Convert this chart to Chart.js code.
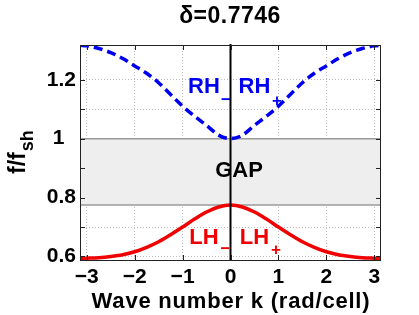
<!DOCTYPE html>
<html><head><meta charset="utf-8">
<script src="https://cdn.jsdelivr.net/npm/chart.js@4/dist/chart.umd.min.js"></script>
<style>html,body{margin:0;padding:0;background:#fff;overflow:hidden}#wrap{width:419px;height:315px}</style>
</head><body><div id="wrap"><canvas id="c" width="419" height="315"></canvas></div>
<script>
const titleText = 'δ=0.7746';
const xAxisTitle = 'Wave number k (rad/cell)';
const yAxisMain = 'f/f';
const yAxisSub = 'sh';
const kMin = -3.1416, kMax = 3.1416;
const yMin = 0.588, yMax = 1.318;
const waveNumber = [-3.1416,-3,-2.75,-2.5,-2.25,-2,-1.75,-1.5,-1.25,-1,-0.75,-0.5,-0.25,0,0.25,0.5,0.75,1,1.25,1.5,1.75,2,2.25,2.5,2.75,3,3.1416];
const rhFreq = [1.317,1.315,1.306,1.292,1.272,1.247,1.222,1.190,1.150,1.110,1.076,1.045,1.012,1.000,1.012,1.045,1.076,1.110,1.150,1.190,1.222,1.247,1.272,1.292,1.306,1.315,1.317];
const lhFreq = [0.593,0.594,0.596,0.600,0.606,0.616,0.631,0.650,0.674,0.700,0.727,0.751,0.768,0.7746,0.768,0.751,0.727,0.700,0.674,0.650,0.631,0.616,0.606,0.600,0.596,0.594,0.593];
const gapLow = 0.7746, gapHigh = 1.0;
const xTicks = [-3,-2,-1,0,1,2,3];
const xTickLabels = ['\u22123','\u22122','\u22121','0','1','2','3'];
const yTicks = [0.6,0.7,0.8,0.9,1.0,1.1,1.2];
const yTickLabels = ['0.6','','0.8','','1  ','','1.2'];

const BLUE = '#0000f0', RED = '#f00000';
const FONT = '"Liberation Sans", Arial, Helvetica, sans-serif';

const decor = {
  id: 'decor',
  beforeDatasetsDraw(chart) {
    const {ctx, chartArea: a, scales: {y}} = chart;
    const yt = y.getPixelForValue(gapHigh), yb = y.getPixelForValue(gapLow);
    ctx.save();
    ctx.fillStyle = '#eeeeee';
    ctx.fillRect(a.left, yt, a.right - a.left, yb - yt);
    ctx.strokeStyle = '#9a9a9a'; ctx.lineWidth = 1.5;
    ctx.beginPath();
    ctx.moveTo(a.left, yt); ctx.lineTo(a.right, yt);
    ctx.moveTo(a.left, yb); ctx.lineTo(a.right, yb);
    ctx.stroke();
    ctx.restore();
  },
  afterDatasetsDraw(chart) {
    const {ctx, chartArea: a, scales: {x, y}} = chart;
    ctx.save();
    const x0 = x.getPixelForValue(0);
    ctx.strokeStyle = '#000'; ctx.lineWidth = 2;
    ctx.beginPath(); ctx.moveTo(x0, a.top - 1); ctx.lineTo(x0, a.bottom); ctx.stroke();
    ctx.lineWidth = 1; ctx.strokeStyle = '#222';
    ctx.strokeRect(Math.round(a.left) + 0.5, Math.round(a.top) + 0.5, Math.round(a.right - a.left) - 1, Math.round(a.bottom - a.top));
    ctx.beginPath();
    xTicks.forEach(v => { const px = Math.round(x.getPixelForValue(v)) + 0.5;
      ctx.moveTo(px, a.bottom); ctx.lineTo(px, a.bottom - 5);
      ctx.moveTo(px, a.top); ctx.lineTo(px, a.top + 5); });
    yTicks.forEach(v => { const py = Math.round(y.getPixelForValue(v)) + 0.5;
      ctx.moveTo(a.left, py); ctx.lineTo(a.left + 5, py);
      ctx.moveTo(a.right, py); ctx.lineTo(a.right - 5, py); });
    ctx.stroke();
    ctx.textAlign = 'center';
    ctx.textBaseline = 'alphabetic';
    ctx.font = 'bold 22px ' + FONT;
    ctx.fillStyle = '#000';
    ctx.fillText('GAP', 239, 177);
    ctx.fillStyle = BLUE;
    ctx.fillText('RH', 204, 93);
    ctx.fillText('RH', 254.5, 93);
    ctx.fillStyle = RED;
    ctx.fillText('LH', 204, 244);
    ctx.fillText('LH', 254.5, 244);
    ctx.font = 'bold 17px ' + FONT;
    ctx.textBaseline = 'middle';
    ctx.fillStyle = BLUE;
    ctx.fillText('\u2212', 226, 100);
    ctx.fillText('+', 277, 101);
    ctx.fillStyle = RED;
    ctx.fillText('\u2212', 225.5, 249.5);
    ctx.fillText('+', 276, 250);
    ctx.restore();
  },
  afterDraw(chart) {
    const {ctx} = chart;
    ctx.save();
    ctx.fillStyle = '#000';
    ctx.textAlign = 'center';
    ctx.textBaseline = 'alphabetic';
    ctx.font = 'bold 23px ' + FONT;
    try { ctx.letterSpacing = '0.5px'; } catch (e) {}
    ctx.fillText(titleText, 230, 23);
    ctx.font = 'bold 22px ' + FONT;
    try { ctx.letterSpacing = '0.8px'; } catch (e) {}
    ctx.fillText(xAxisTitle, 231, 308);
    try { ctx.letterSpacing = '0px'; } catch (e) {}
    ctx.translate(25, 174);
    ctx.rotate(-Math.PI / 2);
    ctx.textAlign = 'left';
    ctx.font = 'bold 23px ' + FONT;
    ctx.fillText(yAxisMain, 0, 0);
    const w = ctx.measureText(yAxisMain).width;
    ctx.font = 'bold 18px ' + FONT;
    ctx.fillText(yAxisSub, w + 1, 8);
    ctx.restore();
  }
};

new Chart(document.getElementById('c'), {
  type: 'line',
  data: {
    datasets: [
      { label: 'RH', data: waveNumber.map((k, i) => ({x: k, y: rhFreq[i]})),
        borderColor: BLUE, borderWidth: 3.5, borderDash: [9, 5], pointRadius: 0,
        cubicInterpolationMode: 'monotone', fill: false },
      { label: 'LH', data: waveNumber.map((k, i) => ({x: k, y: lhFreq[i]})),
        borderColor: RED, borderWidth: 3.5, pointRadius: 0,
        cubicInterpolationMode: 'monotone', fill: false }
    ]
  },
  options: {
    responsive: false, animation: false, devicePixelRatio: 1,
    layout: { padding: { top: 45, right: 38, left: 0, bottom: 0 } },
    plugins: { legend: { display: false }, tooltip: { enabled: false }, title: { display: false } },
    scales: {
      x: {
        type: 'linear', min: kMin, max: kMax,
        afterBuildTicks: s => { s.ticks = xTicks.map(v => ({value: v})); },
        afterFit: s => { s.height = 55; },
        grid: { color: '#bdbdbd', lineWidth: 1, drawTicks: false },
        border: { display: false, dash: [1, 2] },
        ticks: { autoSkip: false, maxRotation: 0, padding: 5, color: '#000',
          font: { family: FONT, size: 21, weight: 'bold' },
          callback: (v, i) => xTickLabels[i] }
      },
      y: {
        type: 'linear', min: yMin, max: yMax,
        afterBuildTicks: s => { s.ticks = yTicks.map(v => ({value: v})); },
        afterFit: s => { s.width = 80; },
        grid: { color: '#bdbdbd', lineWidth: 1, drawTicks: false },
        border: { display: false, dash: [1, 2] },
        ticks: { padding: 4, color: '#000',
          font: { family: FONT, size: 21, weight: 'bold' },
          callback: (v, i) => yTickLabels[i] }
      }
    }
  },
  plugins: [decor]
});
</script></body></html>
